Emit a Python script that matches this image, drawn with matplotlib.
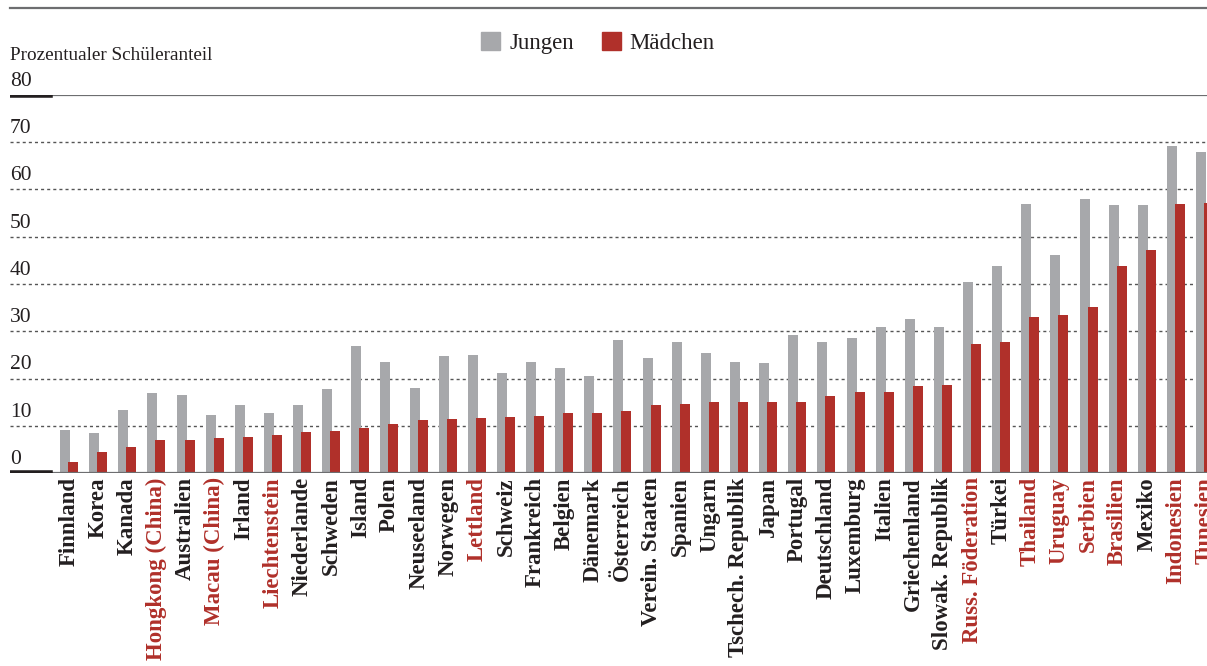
import matplotlib.pyplot as plt
from matplotlib.patches import Patch
from matplotlib.lines import Line2D
import matplotlib.transforms as mtransforms
import numpy as np

plt.rcParams['font.family'] = ['Liberation Serif', 'DejaVu Serif']

countries = ["Finnland", "Korea", "Kanada", "Hongkong (China)", "Australien",
             "Macau (China)", "Irland", "Liechtenstein", "Niederlande", "Schweden",
             "Island", "Polen", "Neuseeland", "Norwegen", "Lettland", "Schweiz",
             "Frankreich", "Belgien", "Dänemark", "Österreich", "Verein. Staaten",
             "Spanien", "Ungarn", "Tschech. Republik", "Japan", "Portugal",
             "Deutschland", "Luxemburg", "Italien", "Griechenland",
             "Slowak. Republik", "Russ. Föderation", "Türkei", "Thailand",
             "Uruguay", "Serbien", "Brasilien", "Mexiko", "Indonesien", "Tunesien"]
# partner countries (red labels)
partners = ["Hongkong (China)", "Macau (China)", "Liechtenstein", "Lettland",
            "Russ. Föderation", "Thailand", "Uruguay", "Serbien", "Brasilien",
            "Indonesien", "Tunesien"]

jungen = [9.1, 8.4, 13.3, 16.9, 16.5, 12.2, 14.3, 12.7, 14.3, 17.7,
          26.8, 23.4, 17.9, 24.7, 24.9, 21.1, 23.4, 22.2, 20.5, 28.1,
          24.3, 27.8, 25.5, 23.4, 23.2, 29.3, 27.8, 28.5, 31.0, 32.5,
          30.8, 40.5, 43.9, 57.0, 46.2, 58.0, 56.8, 56.8, 69.2, 67.9]
maedchen = [2.3, 4.4, 5.5, 7.0, 7.0, 7.4, 7.6, 8.0, 8.7, 8.9,
            9.5, 10.3, 11.2, 11.4, 11.6, 11.8, 12.0, 12.7, 12.7, 13.1,
            14.3, 14.6, 15.0, 15.0, 15.0, 15.0, 16.2, 17.1, 17.1, 18.4,
            18.6, 27.4, 27.8, 33.1, 33.5, 35.2, 43.9, 47.3, 57.0, 57.2]

yticks = [0, 10, 20, 30, 40, 50, 60, 70, 80]

GRAY = '#a7a8ab'
RED = '#b0302a'
DARK = '#231f20'

W, H = 1207, 666
fig = plt.figure(figsize=(W / 100, H / 100), dpi=100)
ax = fig.add_axes([10 / W, 1 - 473 / H, (W - 10) / W, (473 - 95) / H])

x = np.arange(len(countries))
# category step ~29.1 px, first centre at px 69
step = 29.13
x0 = -(69 - 10) / step
x1 = x0 + (W - 10) / step
ax.set_xlim(x0, x1)
ax.set_ylim(0, 80)

bw = 10 / step
off = 4 / step
ax.bar(x - off, jungen, width=bw, color=GRAY, zorder=3)
ax.bar(x + off, maedchen, width=bw, color=RED, zorder=4)

for s in ax.spines.values():
    s.set_visible(False)

# grid lines
for v in yticks[1:-1]:
    ax.axhline(v, color='#555555', lw=1, dashes=(2.2, 2.2), zorder=1)
ax.axhline(0, color='#6d6e70', lw=1.6, zorder=5)
ax.axhline(80, color='#6d6e70', lw=1.6, zorder=5)
seg = 40 / (W - 10)
ax.axhline(0, xmin=0, xmax=seg, color=DARK, lw=4, zorder=6)
ax.axhline(80, xmin=0, xmax=seg, color=DARK, lw=4, zorder=6)

ax.set_yticks([])
trans = mtransforms.blended_transform_factory(ax.transAxes, ax.transData)
for v in yticks:
    ax.annotate(str(v), xy=(0, v), xycoords=trans, xytext=(0, 3),
                textcoords='offset points', ha='left', va='bottom',
                fontsize=15.5, color=DARK)

ax.set_xticks(x)
ax.set_xticklabels(countries, rotation=90, fontsize=16.5, fontweight='bold')
ax.tick_params(axis='x', length=0, pad=3)
for lab, name in zip(ax.get_xticklabels(), countries):
    lab.set_color(RED if name in partners else DARK)

# top rule and title
fig.add_artist(Line2D([10 / W, 1], [1 - 7.5 / H, 1 - 7.5 / H],
                      color='#6d6e70', lw=1.6))
fig.text(10 / W, 1 - 60 / H, "Prozentualer Schüleranteil", fontsize=13.8,
         color=DARK, ha='left', va='baseline')

handles = [Patch(color=GRAY, label='Jungen'), Patch(color=RED, label='Mädchen')]
fig.legend(handles=handles, loc='center', bbox_to_anchor=(598 / W, 1 - 43 / H),
           ncol=2, frameon=False, fontsize=16.5, handlelength=0.83,
           handleheight=0.83, handletextpad=0.4, columnspacing=1.2,
           borderaxespad=0, labelcolor=DARK)

fig.savefig('out.png', dpi=100)
